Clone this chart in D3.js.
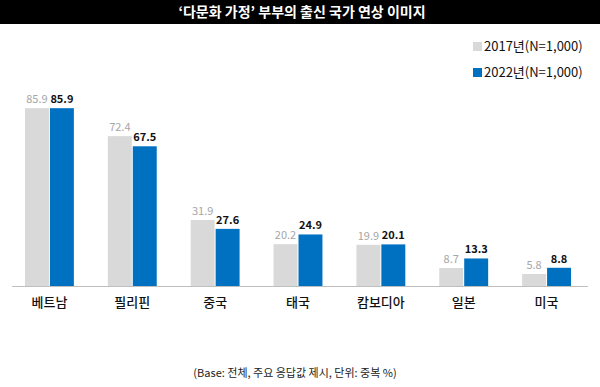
<!DOCTYPE html>
<html>
<head>
<meta charset="utf-8">
<script src="https://cdn.jsdelivr.net/npm/d3@7"></script>
<style>
  body { margin: 0; background: #fff; }
  text { font-family: "Noto Sans CJK KR", "Noto Sans", sans-serif; }
</style>
</head>
<body>
<script>
// Data
const countries = ["베트남", "필리핀", "중국", "태국", "캄보디아", "일본", "미국"];
const years = ["2017년(N=1,000)", "2022년(N=1,000)"];
const values2017 = [85.9, 72.4, 31.9, 20.2, 19.9, 8.7, 5.8];
const values2022 = [85.9, 67.5, 27.6, 24.9, 20.1, 13.3, 8.8];
const colors = ["#d9d9d9", "#0070c0"];

const W = 600, H = 387;
const BASE_Y = 286;

const svg = d3.select("body").append("svg")
  .attr("width", W)
  .attr("height", H);

// Title bar
svg.append("rect")
  .attr("x", 0).attr("y", 0)
  .attr("width", W).attr("height", 24)
  .attr("fill", "#000");
svg.append("text")
  .attr("x", 302).attr("y", 13)
  .attr("text-anchor", "middle")
  .attr("dominant-baseline", "middle")
  .attr("fill", "#fff")
  .attr("font-size", 14)
  .attr("font-weight", "bold")
  .text("‘다문화 가정’ 부부의 출신 국가 연상 이미지");

// Scales
const x = d3.scaleBand()
  .domain(countries)
  .range([8, 588])
  .paddingInner(0.41)
  .paddingOuter(0.205);
const xs = d3.scaleBand()
  .domain([0, 1])
  .range([0, x.bandwidth()])
  .paddingInner(0.04);
const y = d3.scaleLinear()
  .domain([0, 100])
  .range([BASE_Y, BASE_Y - 207]);

const series = [values2017, values2022];

// Bars and value labels
series.forEach((vals, s) => {
  const g = svg.append("g");
  g.selectAll("rect")
    .data(vals)
    .enter()
    .append("rect")
    .attr("x", (d, i) => x(countries[i]) + xs(s))
    .attr("y", d => y(d))
    .attr("width", xs.bandwidth())
    .attr("height", d => BASE_Y - y(d))
    .attr("fill", colors[s]);
  g.selectAll("text")
    .data(vals)
    .enter()
    .append("text")
    .attr("x", (d, i) => x(countries[i]) + xs(s) + xs.bandwidth() / 2)
    .attr("y", d => y(d) - 5)
    .attr("text-anchor", "middle")
    .attr("font-size", 11)
    .attr("font-weight", s === 1 ? "bold" : "normal")
    .attr("fill", s === 1 ? "#111" : "#a6a6a6")
    .text(d => d.toFixed(1));
});

// Baseline
svg.append("line")
  .attr("x1", 12).attr("x2", 588)
  .attr("y1", BASE_Y + 0.5).attr("y2", BASE_Y + 0.5)
  .attr("stroke", "#bfbfbf")
  .attr("stroke-width", 1);

// Category labels
svg.append("g").selectAll("text")
  .data(countries)
  .enter()
  .append("text")
  .attr("x", d => x(d) + x.bandwidth() / 2)
  .attr("y", 303)
  .attr("text-anchor", "middle")
  .attr("dominant-baseline", "middle")
  .attr("font-size", 13)
  .attr("font-weight", 500)
  .attr("fill", "#111")
  .text(d => d);

// Legend
const legend = svg.append("g");
years.forEach((name, i) => {
  legend.append("rect")
    .attr("x", 473).attr("y", 42 + i * 26)
    .attr("width", 9).attr("height", 9)
    .attr("fill", colors[i]);
  legend.append("text")
    .attr("x", 484).attr("y", 47 + i * 26)
    .attr("dominant-baseline", "middle")
    .attr("font-size", 13)
    .attr("fill", "#111")
    .text(name);
});

// Footnote
svg.append("text")
  .attr("x", 295).attr("y", 374)
  .attr("text-anchor", "middle")
  .attr("dominant-baseline", "middle")
  .attr("font-size", 11)
  .attr("fill", "#222")
  .text("(Base: 전체, 주요 응답값 제시, 단위: 중복 %)");
</script>
</body>
</html>
